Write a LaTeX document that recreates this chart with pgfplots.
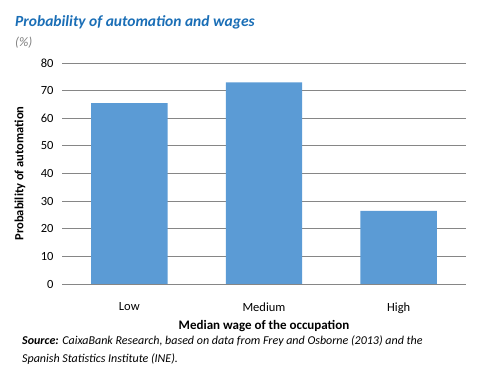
\documentclass[border=0pt]{standalone}
\usepackage{pgfplots}
\pgfplotsset{compat=1.18}
\usepackage{fontspec}
\setmainfont{Carlito}
\definecolor{barblue}{HTML}{5B9BD5}
\definecolor{titleblue}{HTML}{1A6EB6}
\definecolor{gridgray}{HTML}{868686}
\begin{document}
\begin{tikzpicture}[x=1pt,y=1pt]
\path[use as bounding box] (0,0) rectangle (481,377);
\begin{axis}[
  at={(62pt,93pt)}, anchor=south west,
  width=404pt, height=221pt, scale only axis,
  ybar, bar width=0.567,
  xmin=-0.5, xmax=2.5, ymin=0, ymax=80,
  ytick={0,10,...,80},
  xtick={0,1,2}, xticklabels={Low,Medium,High},
  ymajorgrids, grid style={gridgray, line width=0.8pt},
  axis x line*=bottom,
  axis y line*=left,
  x axis line style={gridgray, line width=0.8pt},
  y axis line style={draw=none},
  major tick length=0pt,
  tick style={draw=none},
  /pgf/number format/assume math mode=true,
  ticklabel style={font=\fontsize{12.5}{14}\selectfont, text=black},
  x tick label style={yshift=-15pt},
  y tick label style={xshift=-5pt},
  xlabel={Median wage of the occupation},
  xlabel style={at={(axis description cs:0.5,-0.19)}, anchor=center, font=\fontsize{13}{15}\selectfont\bfseries},
  ylabel={Probability of automation},
  ylabel style={at={(axis description cs:-0.104,0.5)}, anchor=center, font=\fontsize{12.5}{14}\selectfont\bfseries},
]
\addplot[fill=barblue, draw=none] coordinates {(0,65.5) (1,73) (2,26.5)};
\end{axis}
\node[anchor=base west, inner sep=0, text=titleblue, font=\fontsize{15.5}{18}\selectfont\bfseries\itshape] at (15,350) {Probability of automation and wages};
\node[anchor=base west, inner sep=0, text=gray, font=\fontsize{13}{15}\selectfont\itshape] at (15,330) {(\%)};
\node[anchor=base west, inner sep=0, font=\fontsize{12}{14}\selectfont\itshape] at (22,33) {\textbf{Source:} CaixaBank Research, based on data from Frey and Osborne (2013) and the};
\node[anchor=base west, inner sep=0, font=\fontsize{12}{14}\selectfont\itshape] at (22,15) {Spanish Statistics Institute (INE).};
\end{tikzpicture}
\end{document}
